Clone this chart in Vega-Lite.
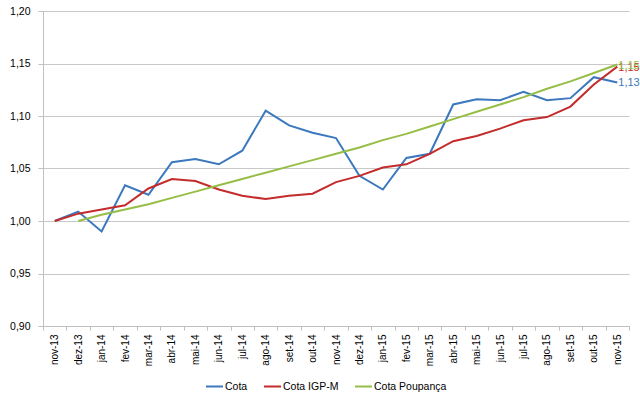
{
  "$schema": "https://vega.github.io/schema/vega-lite/v6.json",
  "autosize": {"type": "none"},
  "width": 586,
  "height": 315,
  "padding": {"left": 43, "top": 11, "right": 11, "bottom": 73},
  "background": "white",
  "config": {
    "locale": {"number": {"decimal": ",", "thousands": ".", "grouping": [3], "currency": ["R$", ""]}},
    "view": {"stroke": null},
    "font": "Liberation Sans"
  },
  "data": {
    "values": [
      {"mes": "nov-13", "serie": "Cota", "valor": 1.000},
      {"mes": "dez-13", "serie": "Cota", "valor": 1.009},
      {"mes": "jan-14", "serie": "Cota", "valor": 0.990},
      {"mes": "fev-14", "serie": "Cota", "valor": 1.034},
      {"mes": "mar-14", "serie": "Cota", "valor": 1.025},
      {"mes": "abr-14", "serie": "Cota", "valor": 1.056},
      {"mes": "mai-14", "serie": "Cota", "valor": 1.059},
      {"mes": "jun-14", "serie": "Cota", "valor": 1.054},
      {"mes": "jul-14", "serie": "Cota", "valor": 1.067},
      {"mes": "ago-14", "serie": "Cota", "valor": 1.105},
      {"mes": "set-14", "serie": "Cota", "valor": 1.091},
      {"mes": "out-14", "serie": "Cota", "valor": 1.084},
      {"mes": "nov-14", "serie": "Cota", "valor": 1.079},
      {"mes": "dez-14", "serie": "Cota", "valor": 1.043},
      {"mes": "jan-15", "serie": "Cota", "valor": 1.030},
      {"mes": "fev-15", "serie": "Cota", "valor": 1.060},
      {"mes": "mar-15", "serie": "Cota", "valor": 1.064},
      {"mes": "abr-15", "serie": "Cota", "valor": 1.111},
      {"mes": "mai-15", "serie": "Cota", "valor": 1.116},
      {"mes": "jun-15", "serie": "Cota", "valor": 1.115},
      {"mes": "jul-15", "serie": "Cota", "valor": 1.123},
      {"mes": "ago-15", "serie": "Cota", "valor": 1.115},
      {"mes": "set-15", "serie": "Cota", "valor": 1.117},
      {"mes": "out-15", "serie": "Cota", "valor": 1.137},
      {"mes": "nov-15", "serie": "Cota", "valor": 1.132},
      {"mes": "nov-13", "serie": "Cota IGP-M", "valor": 1.000},
      {"mes": "dez-13", "serie": "Cota IGP-M", "valor": 1.007},
      {"mes": "jan-14", "serie": "Cota IGP-M", "valor": 1.011},
      {"mes": "fev-14", "serie": "Cota IGP-M", "valor": 1.015},
      {"mes": "mar-14", "serie": "Cota IGP-M", "valor": 1.031},
      {"mes": "abr-14", "serie": "Cota IGP-M", "valor": 1.040},
      {"mes": "mai-14", "serie": "Cota IGP-M", "valor": 1.038},
      {"mes": "jun-14", "serie": "Cota IGP-M", "valor": 1.030},
      {"mes": "jul-14", "serie": "Cota IGP-M", "valor": 1.024},
      {"mes": "ago-14", "serie": "Cota IGP-M", "valor": 1.021},
      {"mes": "set-14", "serie": "Cota IGP-M", "valor": 1.024},
      {"mes": "out-14", "serie": "Cota IGP-M", "valor": 1.026},
      {"mes": "nov-14", "serie": "Cota IGP-M", "valor": 1.037},
      {"mes": "dez-14", "serie": "Cota IGP-M", "valor": 1.043},
      {"mes": "jan-15", "serie": "Cota IGP-M", "valor": 1.051},
      {"mes": "fev-15", "serie": "Cota IGP-M", "valor": 1.054},
      {"mes": "mar-15", "serie": "Cota IGP-M", "valor": 1.064},
      {"mes": "abr-15", "serie": "Cota IGP-M", "valor": 1.076},
      {"mes": "mai-15", "serie": "Cota IGP-M", "valor": 1.081},
      {"mes": "jun-15", "serie": "Cota IGP-M", "valor": 1.088},
      {"mes": "jul-15", "serie": "Cota IGP-M", "valor": 1.096},
      {"mes": "ago-15", "serie": "Cota IGP-M", "valor": 1.099},
      {"mes": "set-15", "serie": "Cota IGP-M", "valor": 1.109},
      {"mes": "out-15", "serie": "Cota IGP-M", "valor": 1.130},
      {"mes": "nov-15", "serie": "Cota IGP-M", "valor": 1.147},
      {"mes": "dez-13", "serie": "Cota Poupança", "valor": 1.000},
      {"mes": "jan-14", "serie": "Cota Poupança", "valor": 1.006},
      {"mes": "fev-14", "serie": "Cota Poupança", "valor": 1.011},
      {"mes": "mar-14", "serie": "Cota Poupança", "valor": 1.016},
      {"mes": "abr-14", "serie": "Cota Poupança", "valor": 1.022},
      {"mes": "mai-14", "serie": "Cota Poupança", "valor": 1.028},
      {"mes": "jun-14", "serie": "Cota Poupança", "valor": 1.034},
      {"mes": "jul-14", "serie": "Cota Poupança", "valor": 1.040},
      {"mes": "ago-14", "serie": "Cota Poupança", "valor": 1.046},
      {"mes": "set-14", "serie": "Cota Poupança", "valor": 1.052},
      {"mes": "out-14", "serie": "Cota Poupança", "valor": 1.058},
      {"mes": "nov-14", "serie": "Cota Poupança", "valor": 1.064},
      {"mes": "dez-14", "serie": "Cota Poupança", "valor": 1.070},
      {"mes": "jan-15", "serie": "Cota Poupança", "valor": 1.077},
      {"mes": "fev-15", "serie": "Cota Poupança", "valor": 1.083},
      {"mes": "mar-15", "serie": "Cota Poupança", "valor": 1.090},
      {"mes": "abr-15", "serie": "Cota Poupança", "valor": 1.097},
      {"mes": "mai-15", "serie": "Cota Poupança", "valor": 1.104},
      {"mes": "jun-15", "serie": "Cota Poupança", "valor": 1.111},
      {"mes": "jul-15", "serie": "Cota Poupança", "valor": 1.118},
      {"mes": "ago-15", "serie": "Cota Poupança", "valor": 1.126},
      {"mes": "set-15", "serie": "Cota Poupança", "valor": 1.133},
      {"mes": "out-15", "serie": "Cota Poupança", "valor": 1.141},
      {"mes": "nov-15", "serie": "Cota Poupança", "valor": 1.149}
    ]
  },
  "encoding": {
    "x": {
      "field": "mes",
      "type": "nominal",
      "bandPosition": 0.5,
      "sort": ["nov-13","dez-13","jan-14","fev-14","mar-14","abr-14","mai-14","jun-14","jul-14","ago-14","set-14","out-14","nov-14","dez-14","jan-15","fev-15","mar-15","abr-15","mai-15","jun-15","jul-15","ago-15","set-15","out-15","nov-15"],
      "scale": {"type": "band", "paddingInner": 0, "paddingOuter": 0},
      "axis": {
        "title": null,
        "labelAngle": 270,
        "labelAlign": "right",
        "labelBaseline": "middle",
        "labelFontSize": 10,
        "labelColor": "#000000",
        "labelPadding": 4,
        "labelOverlap": false,
        "tickBand": "extent",
        "tickSize": 4,
        "tickColor": "#BFBFBF",
        "domainColor": "#BFBFBF",
        "grid": false
      }
    },
    "y": {
      "field": "valor",
      "type": "quantitative",
      "scale": {"domain": [0.9, 1.2], "zero": false, "nice": false},
      "axis": {
        "title": null,
        "format": ".2f",
        "values": [0.9, 0.95, 1.0, 1.05, 1.1, 1.15, 1.2],
        "labelOverlap": false,
        "labelFontSize": 10.5,
        "labelColor": "#000000",
        "labelPadding": 8,
        "tickSize": 5,
        "tickColor": "#BFBFBF",
        "domainColor": "#BFBFBF",
        "gridColor": "#C8C8C8",
        "grid": true
      }
    },
    "color": {
      "field": "serie",
      "type": "nominal",
      "scale": {
        "domain": ["Cota", "Cota IGP-M", "Cota Poupança"],
        "range": ["#3B78BE", "#C42B2B", "#96BE46"]
      },
      "legend": {
        "title": null,
        "orient": "none",
        "direction": "horizontal",
        "legendX": 162,
        "legendY": 366,
        "symbolType": "stroke",
        "symbolSize": 289,
        "symbolStrokeWidth": 2,
        "labelFontSize": 10.5,
        "labelColor": "#000000",
        "labelOffset": 1,
        "columnPadding": 12
      }
    }
  },
  "layer": [
    {
      "mark": {"type": "line", "strokeWidth": 2}
    },
    {
      "transform": [{"filter": "datum.mes === 'nov-15'"}],
      "mark": {"type": "text", "align": "left", "baseline": "middle", "dx": 1, "dy": 1, "fontSize": 11},
      "encoding": {
        "text": {"field": "valor", "type": "quantitative", "format": ".2f"}
      }
    }
  ]
}
